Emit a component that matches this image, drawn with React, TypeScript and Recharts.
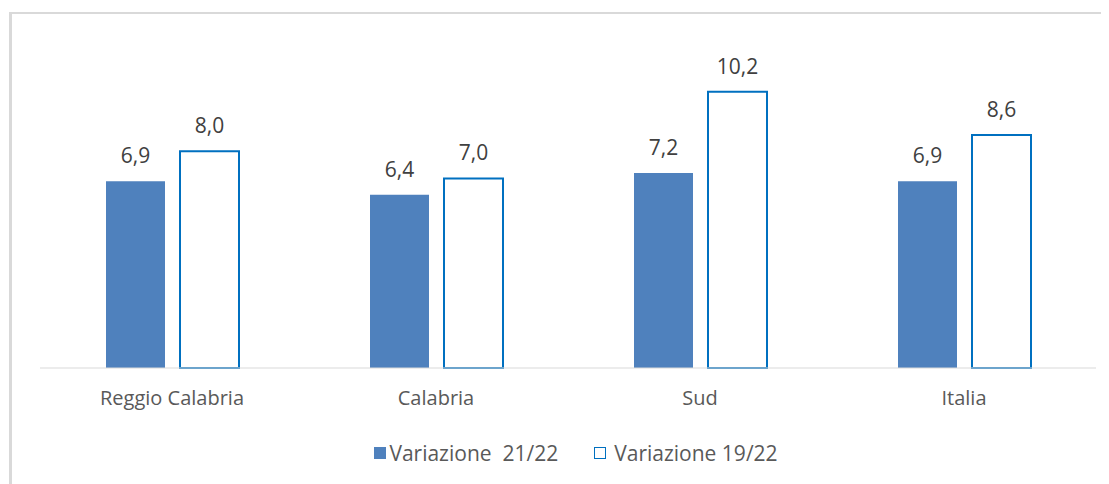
import React from 'react';
import { BarChart, Bar, XAxis, YAxis, Legend, LabelList } from 'recharts';

const categories = ['Reggio Calabria', 'Calabria', 'Sud', 'Italia'];
const variazione2122 = [6.9, 6.4, 7.2, 6.9];
const variazione1922 = [8.0, 7.0, 10.2, 8.6];
const seriesNames = ['Variazione  21/22', 'Variazione 19/22'];

const data = categories.map((name, i) => ({
  name,
  v2122: variazione2122[i],
  v1922: variazione1922[i],
}));

const FONT = '"Open Sans", sans-serif';
const fmt = (v: any) => Number(v).toFixed(1).replace('.', ',');

const renderLegend = () => (
  <div
    style={{
      height: 30,
      display: 'flex',
      justifyContent: 'center',
      alignItems: 'center',
      fontFamily: FONT,
      fontSize: 21,
      color: '#595959',
      lineHeight: '30px',
      paddingLeft: 16,
      whiteSpace: 'pre',
    }}
  >
    <span style={{ display: 'flex', alignItems: 'center' }}>
      <span style={{ width: 12, height: 12, background: '#4F81BD', marginRight: 3, display: 'inline-block' }} />
      <span>{seriesNames[0]}</span>
    </span>
    <span style={{ display: 'flex', alignItems: 'center', marginLeft: 36 }}>
      <span
        style={{
          width: 10,
          height: 10,
          background: '#fff',
          border: '1.5px solid #0070C0',
          marginRight: 8,
          display: 'inline-block',
        }}
      />
      <span>{seriesNames[1]}</span>
    </span>
  </div>
);

export default function App() {
  return (
    <div style={{ position: 'relative', width: 1101, height: 476 }}>
      <div
        style={{
          position: 'absolute',
          left: 1,
          top: 4,
          width: 1100,
          height: 472,
          borderTop: '2px solid #d9d9d9',
          borderLeft: '3px solid #d9d9d9',
          boxSizing: 'border-box',
        }}
      />
      <BarChart
        width={1101}
        height={476}
        data={data}
        margin={{ top: 35, right: 13, left: 32, bottom: 16 }}
        barSize={59}
        barGap={15}
      >
        <XAxis
          dataKey="name"
          height={70}
          tickLine={false}
          tickMargin={17}
          axisLine={{ stroke: '#d9d9d9', strokeWidth: 1 }}
          tick={{ fill: '#595959', fontSize: 20, fontFamily: FONT }}
          interval={0}
        />
        <YAxis hide domain={[0, 12]} />
        <Legend verticalAlign="bottom" content={renderLegend} />
        <Bar dataKey="v2122" name={seriesNames[0]} fill="#4F81BD" isAnimationActive={false}>
          <LabelList
            dataKey="v2122"
            position="top"
            offset={18}
            formatter={fmt}
            style={{ fill: '#404040', fontSize: 21, fontFamily: FONT }}
          />
        </Bar>
        <Bar
          dataKey="v1922"
          name={seriesNames[1]}
          fill="#ffffff"
          stroke="#0070C0"
          strokeWidth={2}
          isAnimationActive={false}
        >
          <LabelList
            dataKey="v1922"
            position="top"
            offset={18}
            formatter={fmt}
            style={{ fill: '#404040', fontSize: 21, fontFamily: FONT }}
          />
        </Bar>
      </BarChart>
    </div>
  );
}
